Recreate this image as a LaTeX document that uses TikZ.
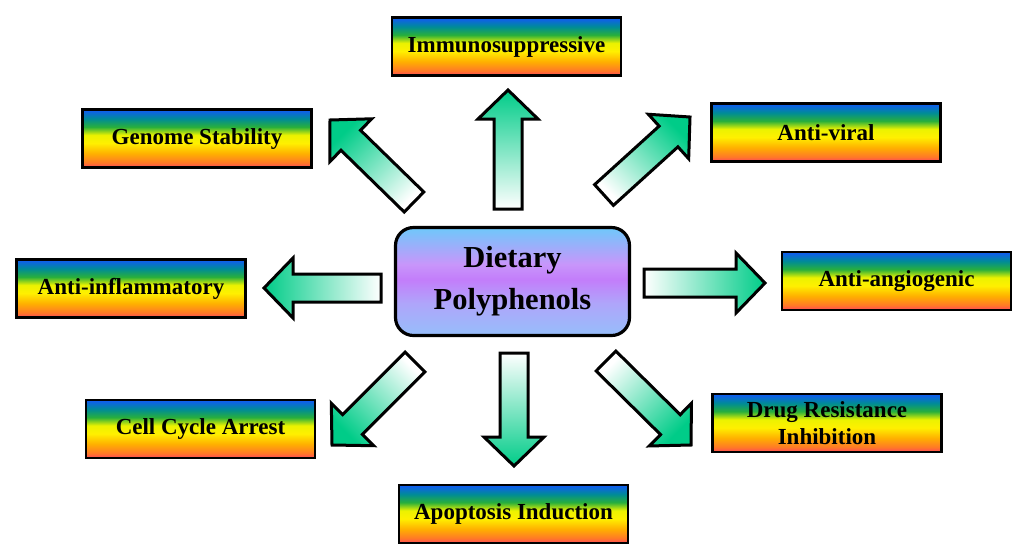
\documentclass[tikz,border=0pt]{standalone}
\usepackage{fontspec}
\setmainfont{Liberation Serif}
\usetikzlibrary{calc}
\definecolor{rbA}{RGB}{255,70,90}
\definecolor{rbB}{RGB}{255,120,40}
\definecolor{rbC}{RGB}{255,175,0}
\definecolor{rbD}{RGB}{255,240,0}
\definecolor{rbE}{RGB}{235,242,0}
\definecolor{rbF}{RGB}{40,175,60}
\definecolor{rbG}{RGB}{0,140,150}
\definecolor{rbH}{RGB}{15,95,235}
\definecolor{cbA}{RGB}{150,190,250}
\definecolor{cbB}{RGB}{175,165,250}
\definecolor{cbC}{RGB}{195,125,250}
\definecolor{cbD}{RGB}{200,150,250}
\definecolor{cbE}{RGB}{110,200,250}
\definecolor{agreen}{RGB}{0,204,136}
\pgfdeclareverticalshading{rainbow}{100bp}{color(0bp)=(rbA); color(25bp)=(rbA); color(29bp)=(rbB); color(37bp)=(rbC); color(46bp)=(rbD); color(53bp)=(rbE); color(60bp)=(rbF); color(67bp)=(rbG); color(74bp)=(rbH); color(100bp)=(rbH)}
\pgfdeclareverticalshading{centershade}{100bp}{color(0bp)=(cbA); color(25bp)=(cbA); color(40bp)=(cbB); color(51bp)=(cbC); color(58bp)=(cbD); color(75bp)=(cbE); color(100bp)=(cbE)}
\tikzset{
  effbox/.style={draw=black, line width=2.2pt, shade, shading=rainbow,
    minimum width=229pt, minimum height=58pt, inner sep=0pt, align=center,
    font=\fontsize{23}{28}\selectfont\bfseries},
  centerbox/.style={draw=black, line width=3.2pt, rounded corners=18pt, shade, shading=centershade,
    minimum width=234pt, minimum height=108pt, inner sep=0pt, align=center,
    font=\fontsize{30.5}{42}\selectfont\bfseries},
  arrowbody/.style={draw=black, line width=3pt, line join=miter, bottom color=white, top color=agreen}
}
\newcommand\blockarr[3]{%
  \coordinate (h) at ($(#2)!29pt!(#1)$);
  \draw[arrowbody, shading angle=#3]
    ($(#1)!14pt!90:(#2)$) -- ($(h)!14pt!90:(#2)$) -- ($(h)!30pt!90:(#2)$) -- (#2)
    -- ($(h)!30pt!-90:(#2)$) -- ($(h)!14pt!-90:(#2)$) -- ($(#1)!14pt!-90:(#2)$) -- cycle;
}
\begin{document}
\begin{tikzpicture}[x=1pt, y=-1pt]
\useasboundingbox[fill=white] (0,0) rectangle (1024,558);
\node[centerbox] (center) at (512.5,281.5) {Dietary\\Polyphenols};
\node[effbox] (immuno) at (506.5,46.5) {Immunosuppressive};
\node[effbox] (genome) at (197,138.5) {Genome Stability};
\node[effbox] (antiviral) at (826,132.5) {Anti-viral};
\node[effbox] (antiinfl) at (131,288.5) {Anti-inflammatory};
\node[effbox] (antiang) at (896.5,281) {Anti-angiogenic};
\node[effbox] (cellcycle) at (200.5,429) {Cell Cycle Arrest};
\node[effbox] (drug) at (827,423) {Drug Resistance\\[-1pt]Inhibition};
\node[effbox] (apopt) at (513.5,514) {Apoptosis Induction};
% arrow base and tip coordinates
\coordinate (bU) at (508,209); \coordinate (tU) at (508,90);
\coordinate (bD) at (514,353); \coordinate (tD) at (514,466);
\coordinate (bR) at (644,283); \coordinate (tR) at (765,283);
\coordinate (bL) at (381,288); \coordinate (tL) at (264,288);
\coordinate (bUL) at (414,202); \coordinate (tUL) at (330,120);
\coordinate (bUR) at (604,195); \coordinate (tUR) at (690,117);
\coordinate (bLL) at (415,362); \coordinate (tLL) at (332,445);
\coordinate (bLR) at (606,361); \coordinate (tLR) at (691,445);
\blockarr{bU}{tU}{0}
\blockarr{bD}{tD}{180}
\blockarr{bR}{tR}{-90}
\blockarr{bL}{tL}{90}
\blockarr{bUL}{tUL}{45}
\blockarr{bUR}{tUR}{-45}
\blockarr{bLL}{tLL}{135}
\blockarr{bLR}{tLR}{-135}
\end{tikzpicture}
\end{document}
